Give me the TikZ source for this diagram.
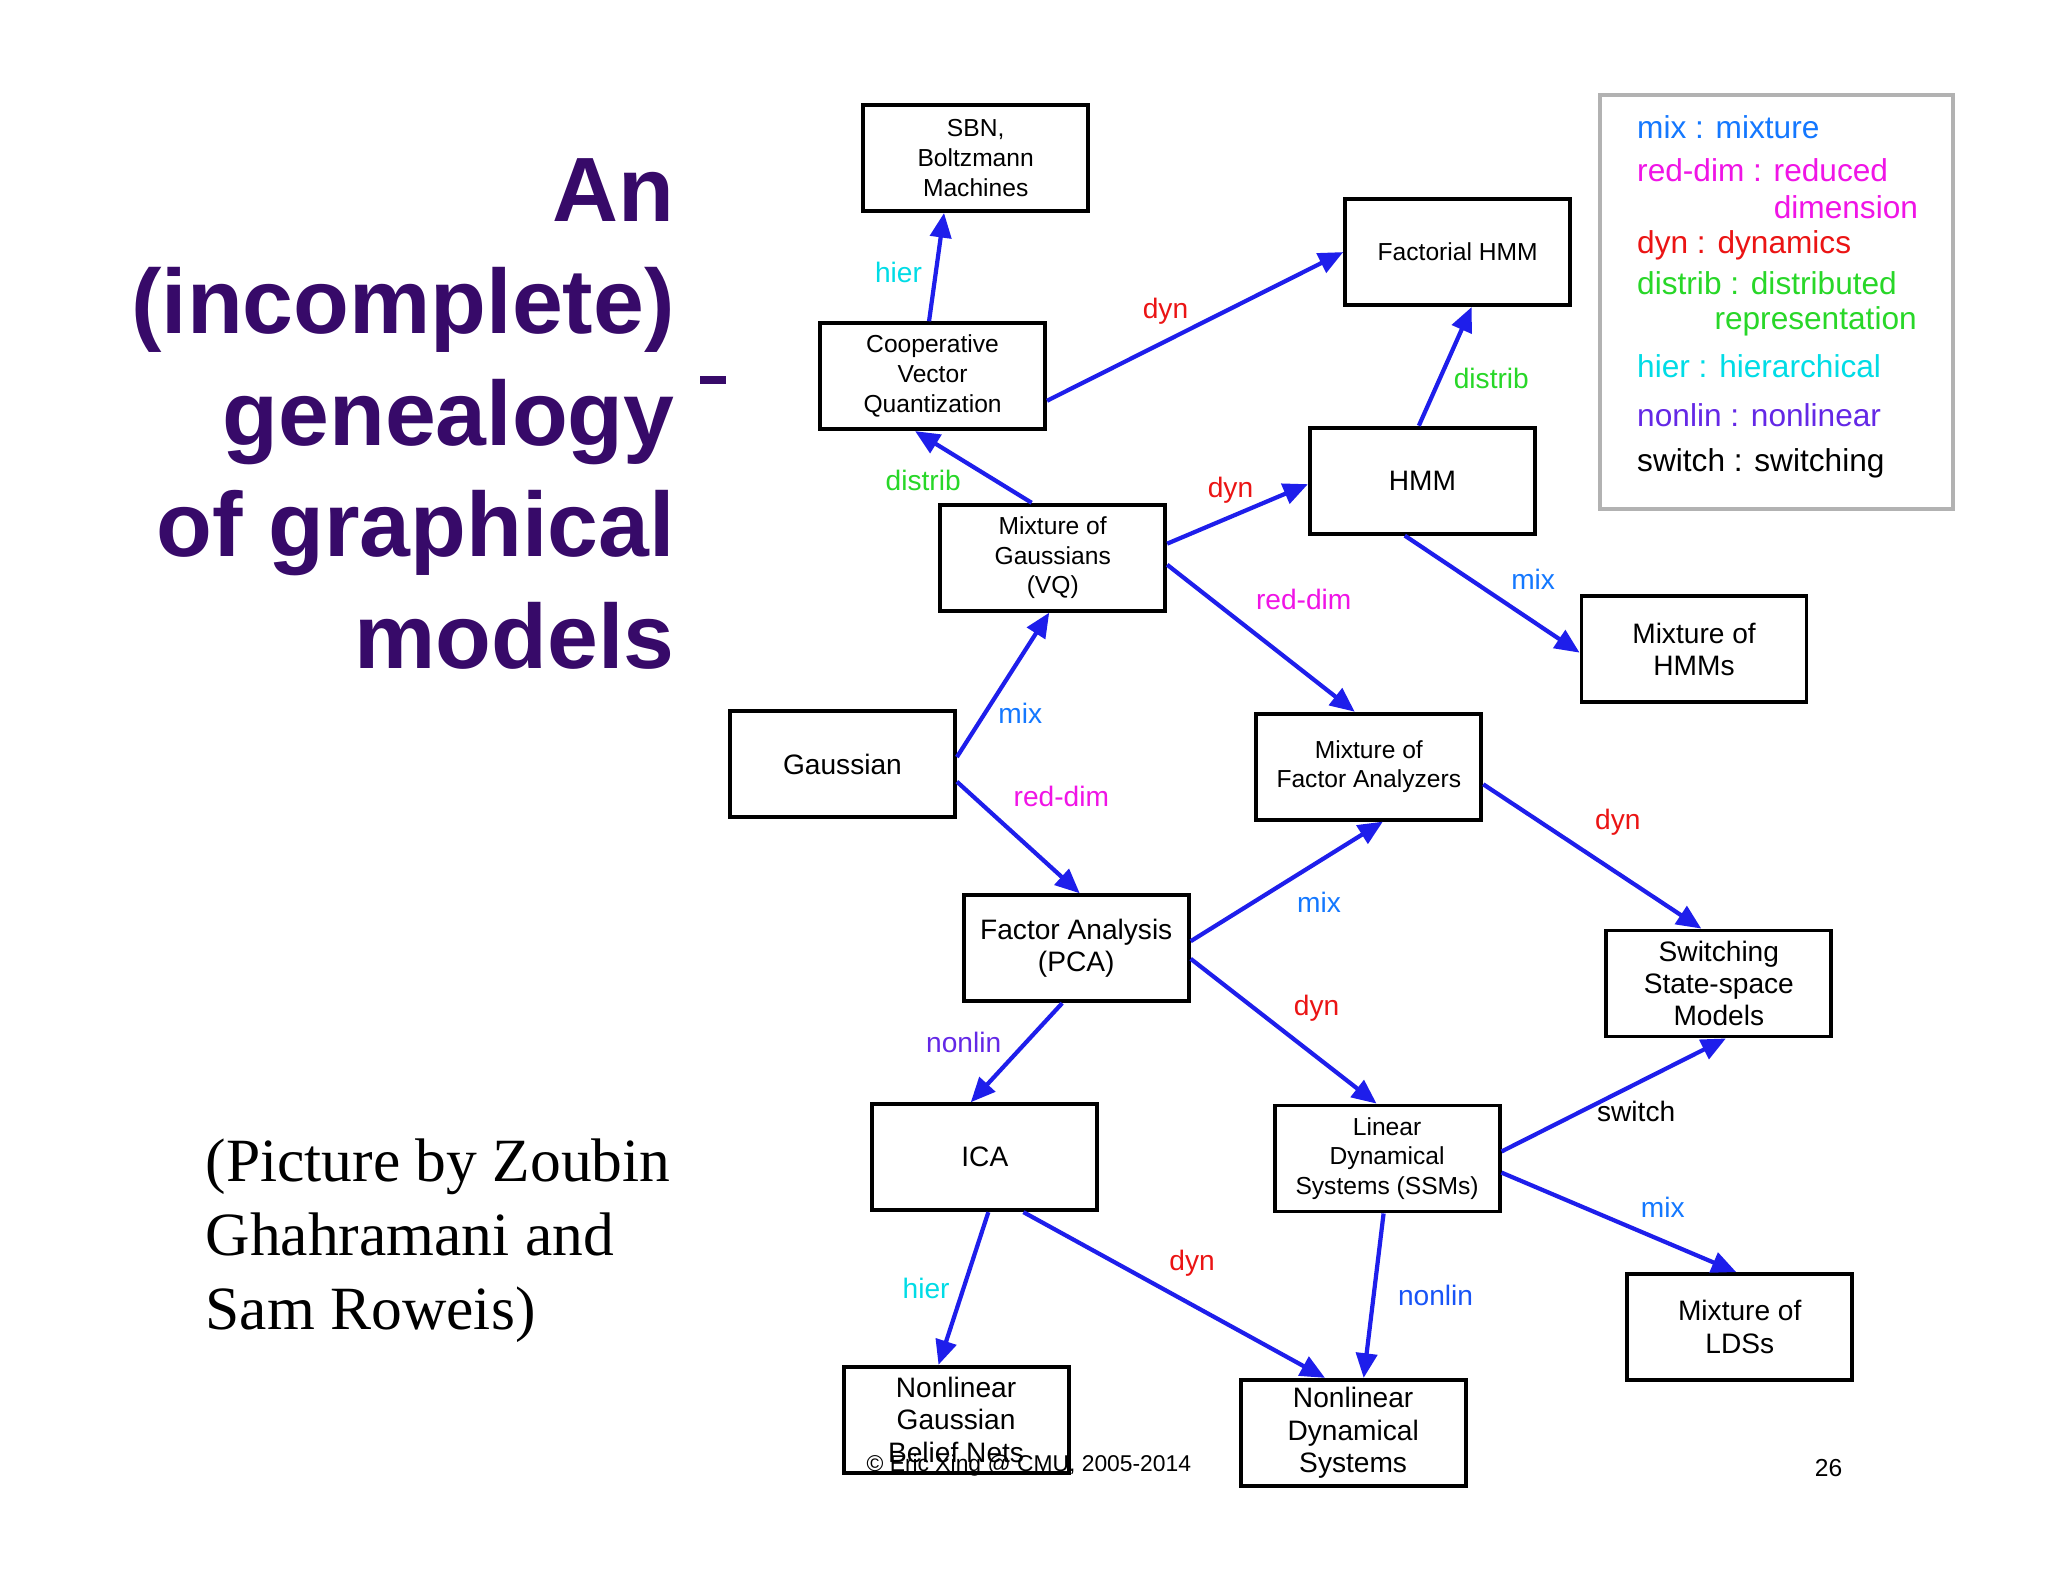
\documentclass[tikz,border=0pt]{standalone}
\usepackage{fontspec}
\setmainfont{Liberation Serif}
\setsansfont{Liberation Sans}
\usetikzlibrary{arrows.meta,calc}
\definecolor{ttl}{RGB}{55,10,105}
\definecolor{arr}{RGB}{30,30,235}
\definecolor{cmix}{RGB}{20,120,255}
\definecolor{cred}{RGB}{240,20,230}
\definecolor{cdyn}{RGB}{235,20,20}
\definecolor{cdis}{RGB}{40,215,40}
\definecolor{chier}{RGB}{0,220,230}
\definecolor{cnl}{RGB}{100,40,230}
\tikzset{
 box/.style={draw,line width=1.1pt,minimum width=2.25cm,minimum height=1.06cm,align=center,font=\sffamily\fontsize{7}{8.5}\selectfont,inner sep=1pt},
 bigbox/.style={box,font=\sffamily\fontsize{8}{9.2}\selectfont},
 edge/.style={-{Triangle[length=7pt,width=6pt]},arr,line width=1.2pt},
 lab/.style={font=\sffamily\fontsize{8}{9}\selectfont},
 leg/.style={font=\sffamily\fontsize{9}{10}\selectfont,anchor=west}
}
\begin{document}
\begin{tikzpicture}[x=0.013061cm,y=-0.013061cm]
\useasboundingbox (0,0) rectangle (1568,1210);
\fill[white] (0,0) rectangle (1568,1210);
% title
\node[anchor=east,align=right,text=ttl,font=\sffamily\bfseries\fontsize{26}{31.8}\selectfont,inner sep=0] (title) at (517,317) {An\\(incomplete)\\genealogy\\of graphical\\models};
\fill[ttl] (536,288) rectangle (556,294);
\node[anchor=west,align=left,font=\fontsize{17.5}{21}\selectfont,inner sep=0] (cap) at (157,950) {(Picture by Zoubin\\Ghahramani and\\Sam Roweis)};
% nodes
\node[box] (sbn) at (747,121) {SBN,\\Boltzmann\\Machines};
\node[box] (cvq) at (714,288) {Cooperative\\Vector\\Quantization};
\node[box] (fhmm) at (1116,193) {Factorial HMM};
\node[bigbox] (hmm) at (1089,368) {HMM};
\node[box] (mog) at (806,427) {Mixture of\\Gaussians\\(VQ)};
\node[bigbox] (mhmm) at (1297,497) {Mixture of\\HMMs};
\node[bigbox] (gau) at (645,585) {Gaussian};
\node[box] (mfa) at (1048,587) {Mixture of\\Factor Analyzers};
\node[bigbox] (fa) at (824,726) {Factor Analysis\\(PCA)};
\node[bigbox] (sssm) at (1316,753) {Switching\\State-space\\Models};
\node[bigbox] (ica) at (754,886) {ICA};
\node[box] (lds) at (1062,887) {Linear\\Dynamical\\Systems (SSMs)};
\node[bigbox] (mlds) at (1332,1016) {Mixture of\\LDSs};
\node[bigbox] (ngbn) at (732,1087) {Nonlinear\\Gaussian\\Belief Nets};
\node[bigbox] (nds) at (1036,1097) {Nonlinear\\Dynamical\\Systems};
% edges
\draw[edge] ([xshift=-1pt]cvq.north) -- ([xshift=-9pt]sbn.south) node[lab,text=chier,pos=0.45,left] {hier};
\draw[edge] ([yshift=-7pt]cvq.east) -- (fhmm.west) node[lab,text=cdyn,pos=0.4,above=1pt] {dyn};
\draw[edge] ([xshift=-6pt]mog.north) -- ([xshift=-5pt]cvq.south) node[lab,text=cdis,pos=0.55,below left=-2pt] {distrib};
\draw[edge] ([yshift=4pt]mog.east) -- ([yshift=-1pt]hmm.west) node[lab,text=cdyn,pos=0.45,above] {dyn};
\draw[edge] ([xshift=-1pt]hmm.north) -- ([xshift=4pt]fhmm.south) node[lab,text=cdis,pos=0.4,right] {distrib};
\draw[edge] ([xshift=-5pt]hmm.south) -- ([yshift=-1pt]mhmm.west) node[lab,text=cmix,pos=0.55,above right=-1pt] {mix};
\draw[edge] ([yshift=-2pt]mog.east) -- ([xshift=-4pt]mfa.north) node[lab,text=cred,pos=0.4,above right] {red-dim};
\draw[edge] ([yshift=2pt]gau.east) -- ([xshift=-1pt]mog.south) node[lab,text=cmix,pos=0.3,right] {mix};
\draw[edge] ([yshift=-5pt]gau.east) -- ([xshift=1pt]fa.north) node[lab,text=cred,pos=0.35,above right] {red-dim};
\draw[edge] ([yshift=2pt]fa.east) -- ([xshift=4pt]mfa.south) node[lab,text=cmix,pos=0.5,below right=-1pt] {mix};
\draw[edge] ([yshift=-5pt]mfa.east) -- ([xshift=-5pt]sssm.north) node[lab,text=cdyn,pos=0.45,above right] {dyn};
\draw[edge] ([yshift=-3pt]fa.east) -- ([xshift=-3pt]lds.north) node[lab,text=cdyn,pos=0.5,above right=-1pt] {dyn};
\draw[edge] ([xshift=-4pt]fa.south) -- ([xshift=-4pt]ica.north) node[lab,text=cnl,pos=0.4,left=3pt] {nonlin};
\draw[edge] ([yshift=2pt]lds.east) -- ([xshift=2pt]sssm.south) node[lab,text=black,pos=0.6,below=1pt] {switch};
\draw[edge] ([yshift=-4pt]lds.east) -- ([xshift=-1pt]mlds.north) node[lab,text=cmix,pos=0.55,above right=-1pt] {mix};
\draw[edge] ([xshift=1pt]ica.south) -- ([xshift=-5pt]ngbn.north) node[lab,text=chier,pos=0.5,left] {hier};
\draw[edge] ([xshift=11pt]ica.south) -- ([xshift=-8pt]nds.north) node[lab,text=cdyn,pos=0.45,above right=-1pt] {dyn};
\draw[edge] ([xshift=-1pt]lds.south) -- ([xshift=3pt]nds.north) node[lab,text=cmix!60!arr,pos=0.5,right=3pt] {nonlin};
% legend
\draw[gray!60,line width=1.2pt] (1225,73) rectangle (1495,390);
\node[leg,text=cmix] (l1) at (1244,97) {mix : mixture};
\node[leg,text=cred] (l2) at (1244,130) {red-dim : reduced};
\node[leg,text=cred,anchor=east] (l2b) at (1478,159) {dimension};
\node[leg,text=cdyn] (l3) at (1244,188) {dyn : dynamics};
\node[leg,text=cdis] (l4) at (1244,217) {distrib : distributed};
\node[leg,text=cdis,anchor=east] (l4b) at (1477,246) {representation};
\node[leg,text=chier] (l5) at (1244,280) {hier : hierarchical};
\node[leg,text=cnl] (l6) at (1244,318) {nonlin : nonlinear};
\node[leg,text=black] (l7) at (1244,355) {switch : switching};
% footer
\node[font=\sffamily\fontsize{6.5}{7}\selectfont,anchor=west] (foot) at (654,1122) {© Eric Xing @ CMU, 2005-2014};
\node[font=\sffamily\fontsize{7}{8}\selectfont] (pg) at (1400,1124) {26};
\end{tikzpicture}
\end{document}
